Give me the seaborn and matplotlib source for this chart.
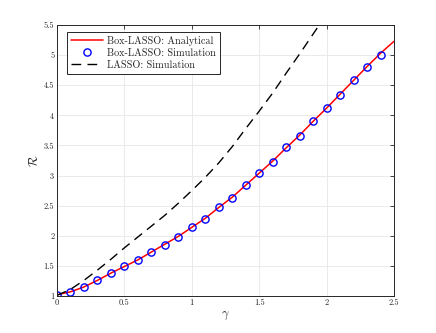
import numpy as np
import pandas as pd
import matplotlib
matplotlib.use("Agg")
import matplotlib.pyplot as plt
import seaborn as sns

# ---- data ----
gamma_box = [0.0, 0.1, 0.2, 0.3, 0.4, 0.5, 0.6, 0.7, 0.8, 0.9, 1.0, 1.1, 1.2,
             1.3, 1.4, 1.5, 1.6, 1.7, 1.8, 1.9, 2.0, 2.1, 2.2, 2.3, 2.4]
box_sim = [1.02, 1.07, 1.15, 1.26, 1.38, 1.49, 1.60, 1.73, 1.85, 1.98, 2.14, 2.28, 2.47,
           2.63, 2.84, 3.05, 3.23, 3.47, 3.66, 3.91, 4.13, 4.34, 4.58, 4.80, 5.01]
gamma_analytical = gamma_box + [2.5]
box_analytical = [1.02, 1.07, 1.15, 1.26, 1.38, 1.49, 1.60, 1.73, 1.86, 1.99, 2.14, 2.29, 2.47,
                  2.64, 2.84, 3.04, 3.24, 3.46, 3.67, 3.90, 4.12, 4.35, 4.58, 4.81, 5.03, 5.23]
gamma_lasso = [0.0, 0.1, 0.2, 0.3, 0.4, 0.5, 0.6, 0.7, 0.8, 0.9, 1.0,
               1.1, 1.2, 1.3, 1.4, 1.5, 1.6, 1.7, 1.8, 1.9, 2.0]
lasso_sim = [1.01, 1.11, 1.26, 1.43, 1.61, 1.80, 1.98, 2.16, 2.34, 2.54, 2.75,
             2.97, 3.21, 3.48, 3.78, 4.07, 4.37, 4.70, 5.02, 5.35, 5.68]

xticks = [0, 0.5, 1, 1.5, 2, 2.5]
yticks = [1, 1.5, 2, 2.5, 3, 3.5, 4, 4.5, 5, 5.5]
labels = ["Box-LASSO: Analytical", "Box-LASSO: Simulation", "LASSO: Simulation"]

sns.set_style("whitegrid")
plt.rcParams.update({
    "font.family": "serif",
    "font.serif": ["cmr10"],
    "mathtext.fontset": "cm",
    "axes.formatter.use_mathtext": True,
    "axes.unicode_minus": False,
})

fig = plt.figure(figsize=(4.36, 3.33), dpi=100)
ax = fig.add_axes([57/436, 37/333, 337/436, 271/333])

df_an = pd.DataFrame({"g": gamma_analytical, "r": box_analytical})
df_sim = pd.DataFrame({"g": gamma_box, "r": box_sim})
df_la = pd.DataFrame({"g": gamma_lasso, "r": lasso_sim})

sns.lineplot(data=df_an, x="g", y="r", ax=ax, color="red", lw=1.1, label=labels[0])
sns.lineplot(data=df_sim, x="g", y="r", ax=ax, color="none", marker="o", markersize=5.2,
             markerfacecolor="none", markeredgecolor="blue", markeredgewidth=1.0,
             linestyle="none", label=labels[1])
sns.lineplot(data=df_la, x="g", y="r", ax=ax, color="black", lw=1.0, label=labels[2])
ax.lines[-1].set_dashes([7, 4.5])

ax.set_xlim(0, 2.5)
ax.set_ylim(1, 5.5)
ax.set_xticks(xticks)
ax.set_xticklabels(["0", "0.5", "1", "1.5", "2", "2.5"])
ax.set_yticks(yticks)
ax.set_yticklabels(["1", "1.5", "2", "2.5", "3", "3.5", "4", "4.5", "5", "5.5"])
ax.tick_params(axis="both", labelsize=6, direction="in", length=3, width=0.6,
               colors="#262626", top=True, right=True, pad=2)
ax.tick_params(labeltop=False, labelright=False)
ax.grid(True, color="#e6e6e6", lw=0.6)
for s in ax.spines.values():
    s.set_color("#262626")
    s.set_linewidth(0.7)
ax.set_facecolor("white")

ax.set_xlabel(r"$\gamma$", fontsize=9, labelpad=2)
ax.set_ylabel(r"$\mathcal{R}$", fontsize=9, labelpad=2)

leg = ax.legend(loc="upper left", bbox_to_anchor=(0.03, 0.975), fontsize=7.3,
                frameon=True, fancybox=False, framealpha=1, edgecolor="#262626",
                handlelength=3.1, borderaxespad=0, borderpad=0.4, labelspacing=0.25,
                handletextpad=0.4)
leg.get_frame().set_linewidth(0.7)
h = leg.legend_handles[1]
h.set_marker("o")
h.set_markerfacecolor("none")
h.set_markeredgecolor("blue")
h.set_linestyle("none")

fig.savefig("out.png", dpi=100)
